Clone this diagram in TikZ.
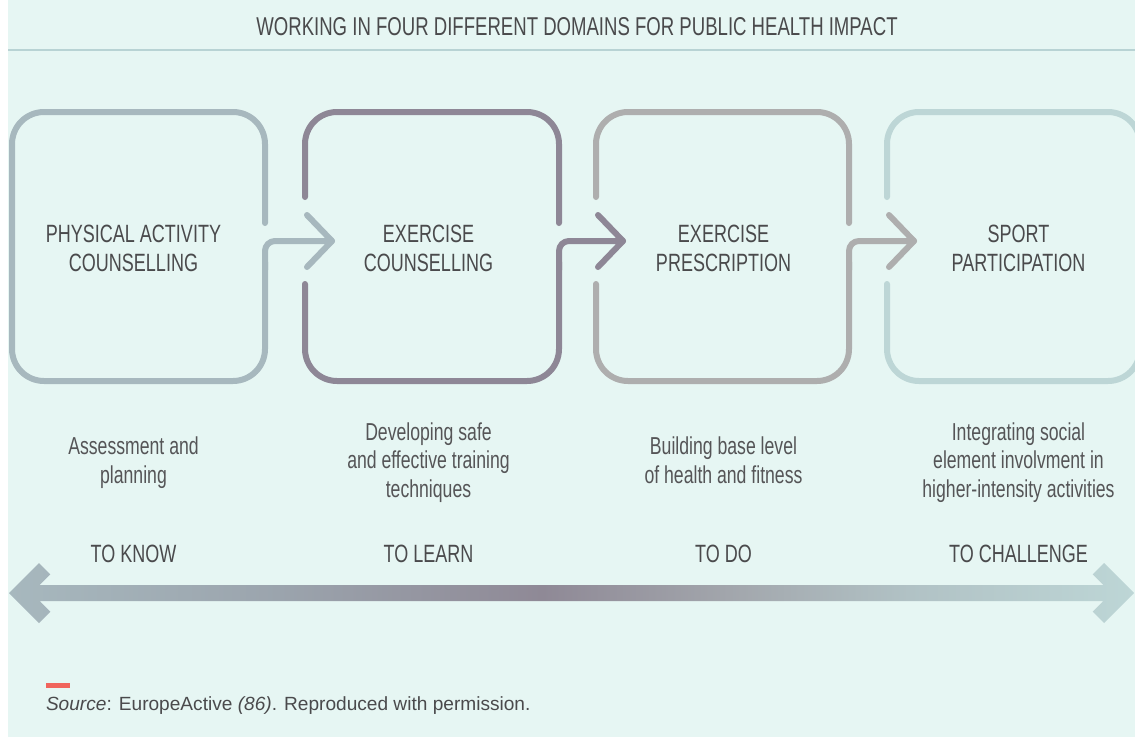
\documentclass[tikz,border=0pt]{standalone}
\usepackage{fontspec}
\setmainfont{Liberation Sans}
\newfontfamily\condfont{Liberation Sans}[FakeStretch=0.72]
\definecolor{bgmint}{HTML}{E6F6F3}
\definecolor{rulecol}{HTML}{B8D3D4}
\definecolor{txt}{HTML}{4A4A4C}
\definecolor{dtxt}{HTML}{555557}
\definecolor{cA}{HTML}{A7B8BE}
\definecolor{cB}{HTML}{8E8796}
\definecolor{cC}{HTML}{AEAEAE}
\definecolor{cD}{HTML}{BDD6D6}
\definecolor{gmid}{HTML}{9BA4AD}
\definecolor{gdark}{HTML}{8F8996}
\definecolor{ggrey}{HTML}{A2A6AC}
\definecolor{glight}{HTML}{B1C2C5}
\definecolor{redmark}{HTML}{F0645C}
\pgfdeclarehorizontalshading{barshade}{100bp}{color(0bp)=(cA); color(25bp)=(cA); color(37bp)=(gmid); color(48.7bp)=(gdark); color(57bp)=(ggrey); color(65bp)=(glight); color(75bp)=(cD); color(100bp)=(cD)}
\begin{document}
\begin{tikzpicture}[x=1pt,y=-1pt,
  boxline/.style={line width=6pt, line cap=round, line join=round, rounded corners=32pt},
  stemline/.style={line width=6pt, line cap=round, line join=round, rounded corners=10pt},
  chev/.style={line width=6pt, line cap=round, line join=round},
  boxtext/.style={align=center, anchor=base, text=txt, font=\condfont\fontsize{25}{29}\selectfont},
  desctext/.style={align=center, anchor=base, text=dtxt, font=\condfont\fontsize{24.5}{28.5}\selectfont},
  keytext/.style={anchor=base, text=txt, font=\condfont\fontsize{25}{29}\selectfont},
  inner sep=0pt, outer sep=0pt]
\useasboundingbox (0,0) rectangle (1135,737);
\clip (0,0) rectangle (1135,737);
\fill[white] (0,0) rectangle (1135,737);
\fill[bgmint] (8,0) rectangle (1135,737);

% title
\node[keytext, font=\condfont\fontsize{25.8}{29}\selectfont] (title) at (577,35) {WORKING IN FOUR DIFFERENT DOMAINS FOR PUBLIC HEALTH IMPACT};
\coordinate (ruleL) at (8,50);
\coordinate (ruleR) at (1135,50);
\draw[rulecol, line width=1.5pt] (ruleL) -- (ruleR);

% arrow tips
\coordinate (tip1) at (332,241);
\coordinate (tip2) at (623,241);
\coordinate (tip3) at (914,241);

% box 1
\draw[boxline, cA] (265,223) -- (265,112) -- (12,112) -- (12,381) -- (265,381) -- (265,262);
\draw[stemline, cA] (265,270) -- (265,241) -- (tip1);
\draw[chev, cA] (307,215) -- (tip1) -- (307,267);

% box 2
\draw[boxline, cB] (305,197) -- (305,112) -- (559,112) -- (559,223);
\draw[boxline, cB] (305,284) -- (305,381) -- (559,381) -- (559,262);
\draw[stemline, cB] (559,270) -- (559,241) -- (tip2);
\draw[chev, cB] (598,215) -- (tip2) -- (598,267);

% box 3
\draw[boxline, cC] (596,197) -- (596,112) -- (849,112) -- (849,223);
\draw[boxline, cC] (596,284) -- (596,381) -- (849,381) -- (849,262);
\draw[stemline, cC] (849,270) -- (849,241) -- (tip3);
\draw[chev, cC] (889,215) -- (tip3) -- (889,267);

% box 4
\draw[boxline, cD] (887,197) -- (887,112) -- (1140,112) -- (1140,381) -- (887,381) -- (887,284);

% box labels (base = last line)
\node[boxtext] (b1) at (133.5,271) {PHYSICAL ACTIVITY\\COUNSELLING};
\node[boxtext] (b2) at (428.5,271) {EXERCISE\\COUNSELLING};
\node[boxtext] (b3) at (723.5,271) {EXERCISE\\PRESCRIPTION};
\node[boxtext] (b4) at (1018.5,271) {SPORT\\PARTICIPATION};

% descriptions (base = last line)
\node[desctext] (d1) at (133.5,483) {Assessment and\\planning};
\node[desctext] (d2) at (428.5,497) {Developing safe\\and effective training\\techniques};
\node[desctext] (d3) at (723.5,483) {Building base level\\of health and fitness};
\node[desctext] (d4) at (1018.5,497) {Integrating social\\element involvment in\\higher-intensity activities};

% key words
\node[keytext] (k1) at (133.5,562) {TO KNOW};
\node[keytext] (k2) at (428.5,562) {TO LEARN};
\node[keytext] (k3) at (723.5,562) {TO DO};
\node[keytext] (k4) at (1018.5,562) {TO CHALLENGE};

% double arrow
\shade[shading=barshade] (9,593) -- (39,563) -- (50.3,574.3) -- (39.6,585) -- (1103.4,585) -- (1092.7,574.3) -- (1104,563) -- (1134,593) -- (1104,623) -- (1092.7,611.7) -- (1103.4,601) -- (39.6,601) -- (50.3,611.7) -- (39,623) -- cycle;

% source
\fill[redmark] (46,683) rectangle (70,688);
\node[anchor=base west, text=txt, font=\fontsize{19.1}{22}\selectfont] (src) at (46,710) {\textit{Source}: EuropeActive \textit{(86)}. Reproduced with permission.};
\end{tikzpicture}
\end{document}
